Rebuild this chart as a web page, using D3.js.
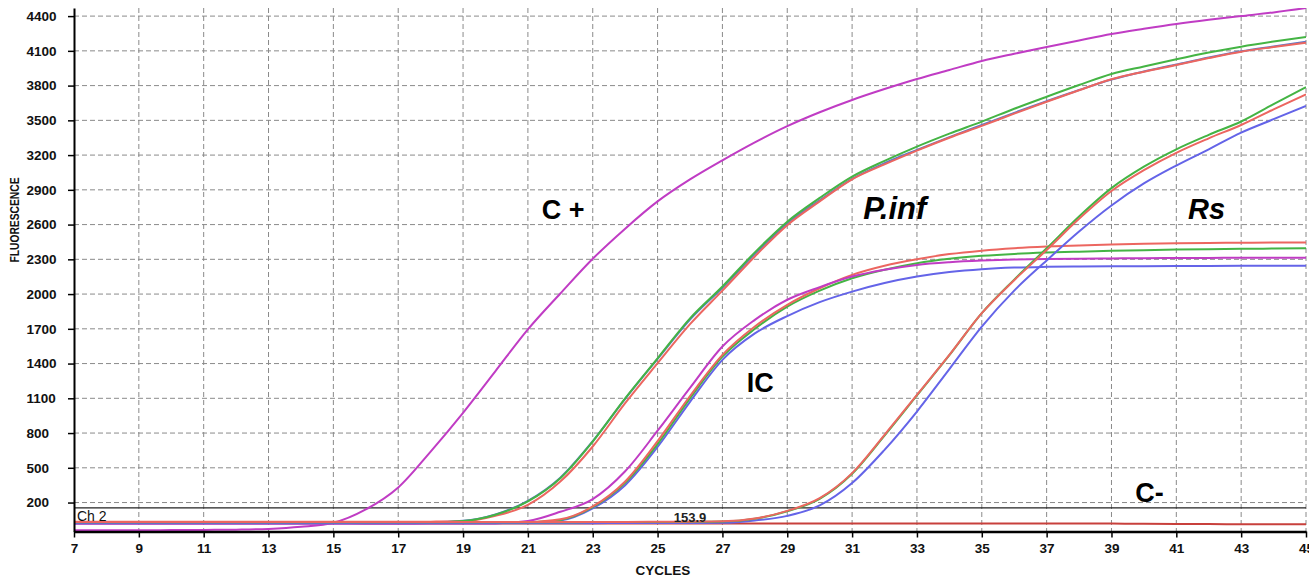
<!DOCTYPE html>
<html>
<head>
<meta charset="utf-8">
<script src="https://cdn.jsdelivr.net/npm/d3@7"></script>
<style>
  body { margin: 0; background: #fff; }
  svg { display: block; font-family: 'Liberation Sans', Arial, sans-serif; }
</style>
</head>
<body>
<svg id="chart"></svg>
<script>
// PCR amplification curves (one value per cycle 7..45)
const cycles = [7, 8, 9, 10, 11, 12, 13, 14, 15, 16, 17, 18, 19, 20, 21, 22, 23, 24, 25, 26,
  27, 28, 29, 30, 31, 32, 33, 34, 35, 36, 37, 38, 39, 40, 41, 42, 43, 44, 45];

const xTicks = [7, 9, 11, 13, 15, 17, 19, 21, 23, 25, 27, 29, 31, 33, 35, 37, 39, 41, 43, 45];
const yTicks = [200, 500, 800, 1100, 1400, 1700, 2000, 2300, 2600, 2900, 3200, 3500, 3800, 4100, 4400];
const threshold = 153.9;

const cPlus = [-40, -40, -40, -38, -36, -34, -28, -10, 25, 140, 330, 640, 975, 1335, 1695, 2005, 2305, 2565, 2800, 2990,
  3155, 3310, 3450, 3570, 3676, 3770, 3857, 3935, 4013, 4075, 4133, 4190, 4245, 4290, 4332, 4368, 4400, 4432, 4470];
const cMinus = [22, 22, 22, 22, 22, 21, 21, 21, 21, 20, 20, 20, 20, 20, 20, 20, 19, 19, 19, 19,
  19, 19, 19, 19, 19, 19, 19, 18, 18, 18, 18, 18, 20, 16, 14, 14, 13, 13, 13];

const pinfGreen = [26, 26, 26, 26, 26, 26, 26, 26, 26, 26, 27, 28, 40, 95, 210, 410, 727, 1100, 1445, 1790,
  2065, 2360, 2625, 2830, 3014, 3150, 3273, 3385, 3489, 3600, 3704, 3805, 3900, 3965, 4027, 4085, 4136, 4180, 4220];
const pinfBlue = [30, 30, 30, 30, 30, 30, 30, 30, 30, 30, 30, 31, 42, 98, 215, 415, 730, 1095, 1440, 1780,
  2055, 2345, 2610, 2810, 2995, 3130, 3245, 3355, 3460, 3565, 3665, 3762, 3852, 3922, 3982, 4042, 4096, 4138, 4178];
const pinfRed = [34, 34, 34, 34, 34, 34, 34, 34, 34, 34, 34, 35, 38, 85, 180, 381, 684, 1058, 1403, 1740,
  2030, 2325, 2595, 2800, 2991, 3120, 3239, 3350, 3452, 3558, 3661, 3760, 3855, 3920, 3978, 4038, 4093, 4133, 4170];

const icMagenta = [16, 16, 16, 16, 16, 16, 16, 16, 17, 17, 17, 18, 18, 20, 40, 120, 230, 470, 820, 1190,
  1547, 1777, 1951, 2060, 2151, 2210, 2252, 2275, 2289, 2298, 2303, 2306, 2308, 2310, 2311, 2312, 2313, 2313, 2314];
const icRed = [30, 30, 30, 30, 30, 30, 30, 30, 30, 30, 30, 30, 30, 30, 32, 55, 166, 382, 730, 1120,
  1475, 1720, 1907, 2050, 2166, 2245, 2301, 2345, 2375, 2396, 2410, 2420, 2428, 2434, 2438, 2441, 2443, 2445, 2446];
const icGreen = [28, 28, 28, 28, 28, 28, 28, 28, 28, 28, 28, 28, 28, 28, 30, 50, 160, 370, 705, 1100,
  1460, 1700, 1892, 2030, 2137, 2210, 2267, 2305, 2330, 2347, 2358, 2366, 2373, 2379, 2384, 2388, 2391, 2393, 2395];
const icBlue = [25, 25, 25, 25, 25, 25, 25, 25, 25, 25, 25, 25, 25, 25, 28, 45, 150, 350, 680, 1070,
  1432, 1660, 1810, 1930, 2021, 2095, 2151, 2190, 2215, 2229, 2235, 2238, 2240, 2241, 2242, 2243, 2244, 2245, 2245];

const rsRed = [32, 32, 32, 32, 32, 32, 32, 32, 32, 32, 32, 32, 32, 32, 32, 32, 33, 33, 34, 35,
  38, 62, 128, 238, 454, 785, 1130, 1475, 1835, 2120, 2380, 2650, 2890, 3070, 3220, 3345, 3460, 3595, 3725];
const rsGreen = [30, 30, 30, 30, 30, 30, 30, 30, 30, 30, 30, 30, 30, 30, 30, 30, 31, 31, 32, 33,
  36, 60, 125, 232, 448, 778, 1125, 1472, 1835, 2125, 2395, 2670, 2915, 3100, 3250, 3375, 3490, 3640, 3786];
const rsBlue = [22, 22, 22, 22, 22, 22, 22, 22, 22, 22, 22, 22, 22, 22, 22, 22, 22, 23, 23, 24,
  25, 45, 85, 175, 368, 655, 986, 1352, 1719, 2030, 2290, 2540, 2765, 2955, 3110, 3250, 3394, 3510, 3624];

const W = 1309, H = 578;
const plotLeft = 74, plotRight = 1306, plotTop = 8, plotBottom = 531.5;

const svg = d3.select('#chart')
.attr('width', W)
.attr('height', H);

const x = d3.scaleLinear().domain([7, 45]).range([plotLeft, plotRight]);
const y = d3.scaleLinear().domain([-50, 4470]).range([plotBottom, plotTop]);

// dashed grid
svg.append('g')
.selectAll('line')
.data(xTicks.slice(1))
.enter()
.append('line')
.attr('x1', d => x(d)).attr('x2', d => x(d))
.attr('y1', plotTop).attr('y2', plotBottom)
.attr('stroke', '#8a8a8a')
.attr('stroke-dasharray', '5,3');

svg.append('g')
.selectAll('line')
.data(yTicks)
.enter()
.append('line')
.attr('x1', plotLeft).attr('x2', plotRight)
.attr('y1', d => y(d)).attr('y2', d => y(d))
.attr('stroke', '#8a8a8a')
.attr('stroke-dasharray', '5,3');

// threshold line
svg.append('line')
.attr('x1', plotLeft).attr('x2', plotRight)
.attr('y1', y(threshold)).attr('y2', y(threshold))
.attr('stroke', '#222')
.attr('stroke-width', 1.2);

svg.append('clipPath').attr('id', 'plot')
.append('rect')
.attr('x', plotLeft).attr('y', plotTop)
.attr('width', plotRight - plotLeft).attr('height', plotBottom - plotTop);

const series = [
  {values: cMinus, color: '#c8403c'},
  {values: cPlus, color: '#c03cc4'},
  {values: pinfBlue, color: '#5c78c8'},
  {values: pinfRed, color: '#ec6660'},
  {values: pinfGreen, color: '#44b444'},
  {values: icBlue, color: '#6464e8'},
  {values: icGreen, color: '#44b444'},
  {values: icRed, color: '#ec6660'},
  {values: icMagenta, color: '#c03cc4'},
  {values: rsBlue, color: '#6464e8'},
  {values: rsGreen, color: '#44b444'},
  {values: rsRed, color: '#ec6660'}
];

const line = d3.line()
.x((d, i) => x(cycles[i]))
.y(d => y(d))
.curve(d3.curveMonotoneX);

const lines = svg.append('g').attr('clip-path', 'url(#plot)');
series.forEach(s => {
  lines.append('path')
  .datum(s.values)
  .attr('fill', 'none')
  .attr('stroke', s.color)
  .attr('stroke-width', 2)
  .attr('d', line);
});

// axes
const xAxis = svg.append('g')
.attr('transform', `translate(0, ${plotBottom})`)
.call(d3.axisBottom(x).tickValues(xTicks).tickSize(6).tickSizeOuter(0).tickFormat(d3.format('d')));
xAxis.select('.domain').attr('stroke', '#000').attr('stroke-width', 2.5);
xAxis.selectAll('.tick line').attr('stroke', '#000').attr('stroke-width', 1.5);
xAxis.selectAll('.tick text')
.attr('y', 12)
.style('font-family', "'Liberation Sans', Arial, sans-serif")
.style('font-size', '13.5px')
.style('font-weight', 'bold')
.attr('fill', '#111');

const yAxis = svg.append('g')
.attr('transform', `translate(${plotLeft}, 0)`)
.call(d3.axisLeft(y).tickValues(yTicks).tickSize(6).tickSizeOuter(0).tickFormat(d3.format('d')));
yAxis.select('.domain').attr('stroke', '#000').attr('stroke-width', 2);
yAxis.selectAll('.tick line').attr('stroke', '#000').attr('stroke-width', 1.5);
yAxis.selectAll('.tick text')
.attr('x', 26.5 - plotLeft)
.attr('text-anchor', 'start')
.style('font-family', "'Liberation Sans', Arial, sans-serif")
.style('font-size', '13.5px')
.style('font-weight', 'bold')
.attr('fill', '#111');

svg.append('text')
.attr('x', 663)
.attr('y', 575)
.attr('text-anchor', 'middle')
.style('font-size', '13.5px')
.style('font-weight', 'bold')
.attr('fill', '#111')
.text('CYCLES');

svg.append('text')
.attr('transform', 'translate(19, 220) rotate(-90)')
.attr('text-anchor', 'middle')
.attr('textLength', 85)
.attr('lengthAdjust', 'spacingAndGlyphs')
.style('font-size', '13px')
.style('font-weight', 'bold')
.attr('fill', '#111')
.text('FLUORESCENCE');

// threshold labels
svg.append('text')
.attr('x', 77).attr('y', 521)
.style('font-size', '14px')
.attr('fill', '#111')
.text('Ch 2');

svg.append('text')
.attr('x', x(25.5)).attr('y', 521.5)
.style('font-size', '13px')
.style('font-weight', 'bold')
.attr('fill', '#222')
.text(threshold.toFixed(1));

// group labels
const labels = [
  {text: 'C +', c: 21.43, v: 2650, size: 27, italic: false},
  {text: 'P.inf', c: 31.34, v: 2650, size: 31, italic: true},
  {text: 'Rs', c: 41.36, v: 2650, size: 29, italic: true},
  {text: 'IC', c: 27.75, v: 1157, size: 27, italic: false},
  {text: 'C-', c: 39.73, v: 207, size: 27, italic: false}
];
labels.forEach(l => {
  svg.append('text')
  .attr('x', x(l.c))
  .attr('y', y(l.v))
  .style('font-size', l.size + 'px')
  .style('font-weight', 'bold')
  .style('font-style', l.italic ? 'italic' : 'normal')
  .attr('fill', '#000')
  .text(l.text);
});
</script>
</body>
</html>
